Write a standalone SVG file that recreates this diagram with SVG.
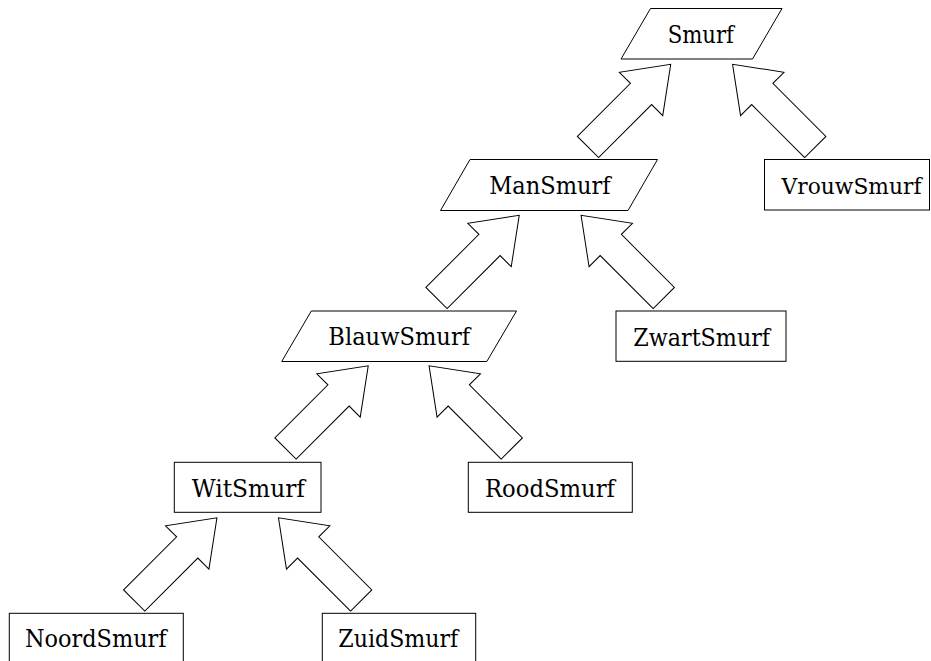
<svg xmlns="http://www.w3.org/2000/svg" xmlns:xlink="http://www.w3.org/1999/xlink" width="931" height="661" viewBox="0 0 931 661">
<style>
.box{fill:#fff;stroke:#000;stroke-width:1}
.lbl{font-family:'DejaVu Serif',serif;font-size:25px;fill:#000;text-anchor:middle}
.arr{fill:#fff;stroke:#000;stroke-width:1;stroke-linejoin:miter}
</style>
<defs>
<path id="fat" d="M0,-15 L75,-15 L75,-30.7 L117,0 L75,30.7 L75,15 L0,15 Z"/>
</defs>
<rect width="931" height="661" fill="#fff"/>
<g id="connectors">
<use xlink:href="#fat" class="arr" transform="translate(588,147) rotate(-45)"/>
<use xlink:href="#fat" class="arr" transform="translate(815.3,147) rotate(-135)"/>
<use xlink:href="#fat" class="arr" transform="translate(436.5,298) rotate(-45)"/>
<use xlink:href="#fat" class="arr" transform="translate(663.8,298) rotate(-135)"/>
<use xlink:href="#fat" class="arr" transform="translate(285.5,448.5) rotate(-45)"/>
<use xlink:href="#fat" class="arr" transform="translate(511.8,448.5) rotate(-135)"/>
<use xlink:href="#fat" class="arr" transform="translate(134.2,600.5) rotate(-45)"/>
<use xlink:href="#fat" class="arr" transform="translate(361.2,600.5) rotate(-135)"/>
</g>
<g id="Smurf">
<polygon class="box" points="650.5,8.5 782,8.5 752.5,59 621,59"/>
<text class="lbl" x="700.8" y="43.3" textLength="66.3" lengthAdjust="spacingAndGlyphs">Smurf</text>
</g>
<g id="ManSmurf">
<polygon class="box" points="470,159.5 657.5,159.5 628,210.5 440.5,210.5"/>
<text class="lbl" x="550" y="194" textLength="121.4" lengthAdjust="spacingAndGlyphs">ManSmurf</text>
</g>
<g id="VrouwSmurf">
<rect class="box" x="764.5" y="159.5" width="165" height="50.5"/>
<text class="lbl" style="font-size:22.5px" x="851.5" y="194" textLength="140" lengthAdjust="spacingAndGlyphs">VrouwSmurf</text>
</g>
<g id="BlauwSmurf">
<polygon class="box" points="311.3,311 516.5,311 486.8,361.5 281.7,361.5"/>
<text class="lbl" x="399.2" y="345.3" textLength="141.7" lengthAdjust="spacingAndGlyphs">BlauwSmurf</text>
</g>
<g id="ZwartSmurf">
<rect class="box" x="616" y="311" width="170" height="50.3"/>
<text class="lbl" x="701.7" y="345.7" textLength="136.7" lengthAdjust="spacingAndGlyphs">ZwartSmurf</text>
</g>
<g id="WitSmurf">
<rect class="box" x="174.3" y="462.3" width="146.7" height="50"/>
<text class="lbl" x="248.3" y="496.7" textLength="113.3" lengthAdjust="spacingAndGlyphs">WitSmurf</text>
</g>
<g id="RoodSmurf">
<rect class="box" x="468.3" y="462.3" width="164" height="50"/>
<text class="lbl" x="550" y="496.7" textLength="130" lengthAdjust="spacingAndGlyphs">RoodSmurf</text>
</g>
<g id="NoordSmurf">
<rect class="box" x="9.3" y="613.3" width="174" height="50"/>
<text class="lbl" x="95.8" y="647" textLength="141.7" lengthAdjust="spacingAndGlyphs">NoordSmurf</text>
</g>
<g id="ZuidSmurf">
<rect class="box" x="322.3" y="613.3" width="153.4" height="50"/>
<text class="lbl" x="398.3" y="647" textLength="120" lengthAdjust="spacingAndGlyphs">ZuidSmurf</text>
</g>
</svg>
